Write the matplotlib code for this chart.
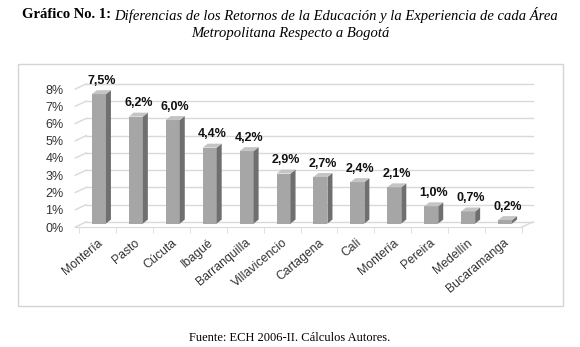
"""Bar chart: differences in returns to education/experience by metropolitan area vs Bogota."""

import matplotlib

matplotlib.use("Agg")
import matplotlib.pyplot as plt
from matplotlib.patches import Polygon, Rectangle

CITIES = ["Montería", "Pasto", "Cúcuta", "Ibagué", "Barranquilla", "Villavicencio",
          "Cartagena", "Cali", "Montería", "Pereira", "Medellín", "Bucaramanga"]
VALUES = [7.5, 6.2, 6.0, 4.4, 4.2, 2.9, 2.7, 2.4, 2.1, 1.0, 0.7, 0.2]
Y_TICKS = [0, 1, 2, 3, 4, 5, 6, 7, 8]

W, H = 580, 347
DX, DY = 0.2, 0.3          # depth of the back wall (data units)
BX, BY = 0.135, 0.23       # depth of each bar

FRONT = "#a6a6a6"
SIDE = "#6f6f6f"
TOP = "#c4c4c4"
GRID = "#d9d9d9"


def px_axes(left, right, top, bottom):
    return [left / W, 1 - bottom / H, (right - left) / W, (bottom - top) / H]


fig = plt.figure(figsize=(W / 100, H / 100), dpi=100)
fig.patch.set_facecolor("white")

# chart frame
fig.patches.append(Rectangle((18 / W, 1 - 306 / H), 545 / W, 242 / H, transform=fig.transFigure,
                             fill=False, edgecolor="#d4d4d4", linewidth=1))

xl, xr = -0.38, 12.6
yb, yt = -0.3, 8.5
sx, sy = 36.92, 17.25
ax = fig.add_axes(px_axes(79 + xl * sx, 79 + xr * sx, 227 - yt * sy, 227 - yb * sy))
ax.set_xlim(xl, xr)
ax.set_ylim(yb, yt)
ax.patch.set_visible(False)

# walls / gridlines
for k in Y_TICKS:
    ax.plot([-0.1, DX], [k, k + DY], color=GRID, lw=1, zorder=1)
    ax.plot([DX, 12.3], [k + DY, k + DY], color=GRID, lw=1, zorder=1)
ax.plot([12, 12.3], [0, DY], color=GRID, lw=1, zorder=1)

# bars
for i, v in enumerate(VALUES):
    x0, x1 = i + 0.35, i + 0.73
    y0 = 0.2
    ax.add_patch(Rectangle((x0, y0), x1 - x0, v, facecolor=FRONT, edgecolor="none", zorder=3))
    ax.add_patch(Polygon([(x1, y0), (x1 + BX, y0 + BY), (x1 + BX, y0 + v + BY), (x1, y0 + v)],
                         closed=True, facecolor=SIDE, edgecolor="none", zorder=3))
    ax.add_patch(Polygon([(x0, y0 + v), (x1, y0 + v), (x1 + BX, y0 + v + BY), (x0 + BX, y0 + v + BY)],
                         closed=True, facecolor=TOP, edgecolor="none", zorder=3))
    ax.annotate(f"{v:.1f}%".replace(".", ","), xy=((x0 + x1 + BX) / 2, y0 + v + BY),
                xytext=(0, 2.5), textcoords="offset points", ha="center", va="bottom",
                fontsize=9, fontweight="bold", family="Liberation Sans", color="#111111", zorder=4)

# axes styling
for side in ("top", "right", "left"):
    ax.spines[side].set_visible(False)
ax.spines["bottom"].set_position(("data", 0))
ax.spines["bottom"].set_bounds(-0.1, 12)
ax.spines["bottom"].set_color(GRID)

ax.set_yticks(Y_TICKS)
ax.set_yticklabels([f"{k}%" for k in Y_TICKS], family="Liberation Sans", fontsize=9, color="#333333")
ax.tick_params(axis="y", length=0, pad=1)

ax.set_xticks([i + 0.5 for i in range(len(CITIES))])
ax.set_xticklabels(CITIES, rotation=40, ha="right", rotation_mode="anchor",
                   family="Liberation Sans", fontsize=8.8, color="#333333")
ax.set_xticks(range(len(CITIES) + 1), minor=True)
ax.tick_params(axis="x", which="major", length=0, pad=7)
ax.tick_params(axis="x", which="minor", length=4, color=GRID, direction="out")

# title (bold lead + italic remainder) and source
fig.canvas.draw()
renderer = fig.canvas.get_renderer()
lead = fig.text(0, 1 - 15 / H, "Gráfico No. 1: ", family="Liberation Serif", fontweight="bold",
                fontsize=10.5, va="center", ha="left")
rest = fig.text(0, 1 - 15 / H, "Diferencias de los Retornos de la Educación y la Experiencia de cada Área",
                family="Liberation Serif", style="italic", fontsize=10.5, va="center", ha="left")
w1 = lead.get_window_extent(renderer).width
w2 = rest.get_window_extent(renderer).width
start = (W - w1 - w2) / 2
lead.set_x(start / W)
rest.set_x((start + w1) / W)
fig.text(0.5, 1 - 33 / H, "Metropolitana Respecto a Bogotá", family="Liberation Serif",
         style="italic", fontsize=10.5, va="center", ha="center")
fig.text(0.5, 1 - 338 / H, "Fuente: ECH 2006-II. Cálculos Autores.", family="Liberation Serif",
         fontsize=9, va="center", ha="center")

fig.savefig("out.png", dpi=100)
